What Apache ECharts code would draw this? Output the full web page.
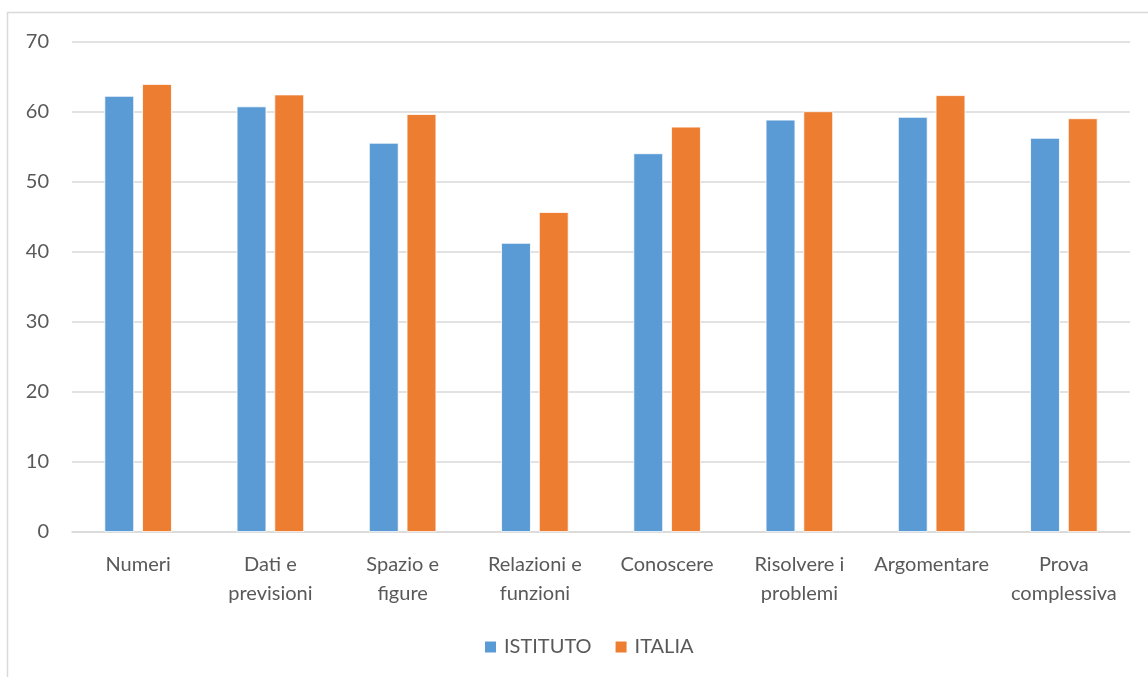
<!DOCTYPE html>
<html>
<head>
<meta charset="utf-8">
<title>ISTITUTO vs ITALIA</title>
<script src="https://cdn.jsdelivr.net/npm/echarts@6/dist/echarts.min.js"></script>
<style>
  html, body { margin: 0; padding: 0; background: #fff; }
  #main { width: 1148px; height: 677px; }
</style>
</head>
<body>
<div id="main"></div>
<script>
// categorie (etichette asse x, con a capo come nel grafico originale)
const categories = [
  "Numeri", "Dati e\nprevisioni", "Spazio e\nfigure", "Relazioni e\nfunzioni",
  "Conoscere", "Risolvere i\nproblemi", "Argomentare", "Prova\ncomplessiva"
];
const istituto = [62.3, 60.8, 55.6, 41.3, 54.1, 58.9, 59.3, 56.3];
const italia = [64.0, 62.5, 59.7, 45.7, 57.9, 60.1, 62.4, 59.1];
const yTicks = [0, 10, 20, 30, 40, 50, 60, 70];

const textColor = "#595959";
const lineColor = "#d9d9d9";
const font = "Lato, 'Open Sans', sans-serif";

let myChart = echarts.init(document.getElementById("main"));
let option = {
  color: ["#5B9BD5", "#ED7D31"],
  textStyle: { fontFamily: font },
  graphic: [
    {
      type: "rect",
      shape: { x: 7.5, y: 12.5, width: 1200, height: 700 },
      style: { fill: "none", stroke: lineColor, lineWidth: 1.5 },
      silent: true
    }
  ],
  grid: { left: 72, right: 18, top: 42, bottom: 145 },
  legend: {
    data: ["ISTITUTO", "ITALIA"],
    left: 478,
    top: 632,
    icon: "rect",
    itemWidth: 13,
    itemHeight: 13,
    itemGap: 22,
    textStyle: { color: textColor, fontSize: 20, fontFamily: font, padding: [0, 0, 0, 2] }
  },
  xAxis: {
    type: "category",
    data: categories,
    axisLine: { lineStyle: { color: lineColor, width: 1.5 } },
    axisTick: { show: false },
    axisLabel: {
      color: textColor,
      fontSize: 20,
      lineHeight: 29,
      margin: 18,
      interval: 0,
      fontFamily: font
    }
  },
  yAxis: {
    type: "value",
    min: yTicks[0],
    max: yTicks[yTicks.length - 1],
    interval: 10,
    axisLine: { show: false },
    axisTick: { show: false },
    splitLine: { lineStyle: { color: lineColor, width: 1.5 } },
    axisLabel: { color: textColor, fontSize: 20, margin: 23, fontFamily: font }
  },
  series: [
    {
      name: "ISTITUTO",
      type: "bar",
      data: istituto,
      barGap: "27%",
      barCategoryGap: "49%",
      itemStyle: { borderColor: "#fff", borderWidth: 0.8 }
    },
    {
      name: "ITALIA",
      type: "bar",
      data: italia,
      itemStyle: { borderColor: "#fff", borderWidth: 0.8 }
    }
  ]
};
myChart.setOption(option);
</script>
</body>
</html>
